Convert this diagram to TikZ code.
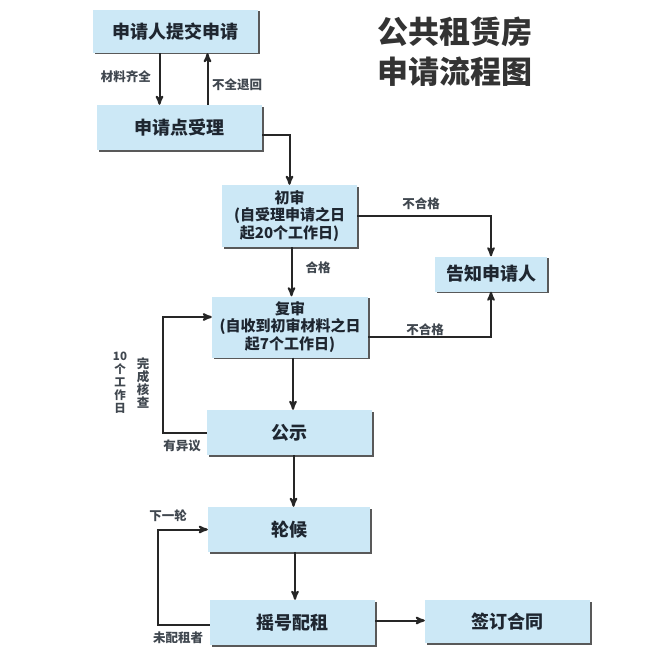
\documentclass[tikz,border=0pt]{standalone}
\usepackage{fontspec}
\setmainfont{Noto Sans CJK SC}
\usepackage{xcolor}
\usepackage{tikz}
\usetikzlibrary{shapes,arrows,shadows}
\definecolor{boxblue}{RGB}{204,232,246}
\definecolor{inkgray}{RGB}{30,38,48}

\begin{document}
\begin{tikzpicture}[x=1pt,y=-1pt,>=stealth']
\tikzstyle{step box} = [fill=boxblue,drop shadow={shadow xshift=1.5pt,shadow yshift=-1.5pt,fill=black!65,opacity=1},text=inkgray,align=center,inner sep=0pt];
\tikzstyle{big} = [step box,font=\fontsize{18}{20}\selectfont\bfseries];
\tikzstyle{small} = [step box,font=\fontsize{15}{17.5}\selectfont\bfseries];
\tikzstyle{tag} = [font=\fontsize{12.5}{13}\selectfont\bfseries,text=inkgray!85,inner sep=1pt];
\tikzstyle{flow} = [->,line width=2pt,draw=black!85];
\useasboundingbox[fill=white] (0,0) rectangle (650,661);

% title
\node[font=\fontsize{31}{40}\selectfont\bfseries,text=black!80,align=left] (title) at (455,52) {公共租赁房\\申请流程图};

% boxes
\node[big,minimum width=165,minimum height=43] (sub) at (175.5,31.5) {申请人提交申请};
\node[big,minimum width=165,minimum height=45] (acc) at (179.5,127.5) {申请点受理};
\node[small,minimum width=135,minimum height=62] (chu) at (289.5,216) {初审\\(自受理申请之日\\起20个工作日)};
\node[big,minimum width=112,minimum height=35] (gz) at (491,274) {告知申请人};
\node[small,minimum width=156,minimum height=61] (fu) at (290,327) {复审\\(自收到初审材料之日\\起7个工作日)};
\node[big,minimum width=165,minimum height=45] (gs) at (289.5,432.5) {公示};
\node[big,minimum width=162,minimum height=45] (lh) at (289,529.5) {轮候};
\node[big,minimum width=165,minimum height=45] (yh) at (292.5,622.5) {摇号配租};
\node[big,minimum width=165,minimum height=43] (qd) at (507.5,621.5) {签订合同};

% top pair
\draw[flow] ([xshift=-16]sub.south) -- ([xshift=-16]sub.south |- acc.north);
\draw[flow] ([xshift=32]sub.south |- acc.north) -- ([xshift=32]sub.south);
\node[tag,anchor=east] (t1) at (152,77) {材料齐全};
\node[tag,anchor=west] (t2) at (211,85) {不全退回};

\draw[flow] ([yshift=-7]acc.east) -| (chu.north);

% first check
\draw[flow] (chu.east) -| (gz.north);
\node[tag] (t3) at (421,204) {不合格};
\draw[flow] ([xshift=2]chu.south) -- ([xshift=2]chu.south |- fu.north);
\node[tag] (t4) at (318,268) {合格};

% second check
\draw[flow] ([yshift=-10]fu.east) -| (gz.south);
\node[tag] (t5) at (425,330) {不合格};
\draw[flow] ([xshift=3]fu.south) -- ([xshift=3]fu.south |- gs.north);

% objection loop
\coordinate (c1) at (163,433);
\draw[flow] (gs.west |- c1) -- (c1) |- ([yshift=10]fu.west);
\node[tag] (t6) at (182,446) {有异议};
\node[tag,align=center,font=\fontsize{11.5}{13}\selectfont\bfseries] (t7) at (120,383) {10\\个\\工\\作\\日};
\node[tag,align=center] (t8) at (143,383) {完\\成\\核\\查};

\draw[flow] ([xshift=4]gs.south) -- ([xshift=4]gs.south |- lh.north);
\draw[flow] ([xshift=6]lh.south) -- ([xshift=6]lh.south |- yh.north);

% lottery loop
\coordinate (c2) at (158,625);
\draw[flow] (yh.west |- c2) -- (c2) |- (lh.west);
\node[tag] (t9) at (168,516) {下一轮};
\node[tag] (t10) at (178,638) {未配租者};

\draw[flow] ([yshift=2]yh.east) -- ([yshift=2]yh.east -| qd.west);
\end{tikzpicture}
\end{document}
